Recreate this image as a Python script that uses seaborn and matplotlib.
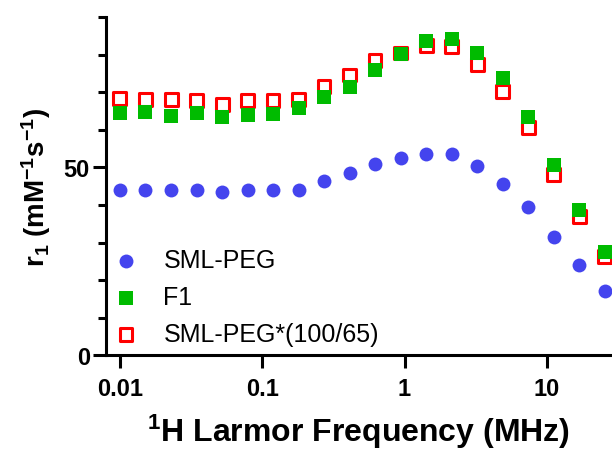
import matplotlib
matplotlib.use("Agg")
import matplotlib.pyplot as plt
import matplotlib.ticker as mtick
import numpy as np
import pandas as pd
import seaborn as sns

# Dados
freq_mhz = [0.01, 0.0151, 0.0229, 0.0346, 0.0523, 0.079, 0.119, 0.18, 0.272, 0.411,
            0.621, 0.938, 1.42, 2.14, 3.24, 4.89, 7.39, 11.2, 16.9, 25.5]
r1_sml_peg = [44.1, 44.1, 44.1, 43.9, 43.4, 44.1, 43.9, 44.1, 46.5, 48.4,
              51.0, 52.4, 53.6, 53.5, 50.3, 45.7, 39.4, 31.4, 24.0, 17.1]
r1_f1 = [64.5, 64.7, 63.8, 64.5, 63.3, 64.0, 64.3, 65.7, 68.7, 71.5,
         75.9, 80.3, 83.7, 84.2, 80.5, 73.9, 63.3, 50.7, 38.6, 27.4]
r1_sml_peg_esc = [68.3, 68.1, 68.1, 67.8, 66.8, 67.9, 67.8, 68.1, 71.5, 74.6,
                  78.4, 80.5, 82.5, 82.3, 77.4, 70.3, 60.6, 48.2, 36.9, 26.2]
rotulos = ["SML-PEG", "F1", "SML-PEG*(100/65)"]
xticks = [0.01, 0.1, 1, 10]
xtick_labels = ["0.01", "0.1", "1", "10"]

df = pd.DataFrame({"freq": freq_mhz, "sml": r1_sml_peg, "f1": r1_f1, "esc": r1_sml_peg_esc})

sns.set_style("ticks")
plt.rcParams["font.family"] = ["Liberation Sans", "DejaVu Sans"]
plt.rcParams["mathtext.fontset"] = "custom"
plt.rcParams["mathtext.rm"] = "Liberation Sans:bold"
plt.rcParams["mathtext.default"] = "rm"
for chave in ["text.color", "axes.labelcolor", "xtick.color", "ytick.color", "axes.edgecolor"]:
    plt.rcParams[chave] = "black"

fig = plt.figure(figsize=(6.12, 4.56), dpi=100)
ax = fig.add_axes([0.173, 0.219, 0.827, 0.741])

sns.scatterplot(data=df, x="freq", y="sml", ax=ax, marker="o", s=100,
                color="#4444EE", linewidth=0, label=rotulos[0], zorder=3)
sns.scatterplot(data=df, x="freq", y="esc", ax=ax, marker="s", s=85,
                facecolor="none", edgecolor="#FF0000", linewidth=2.2,
                label=rotulos[2], zorder=3)
sns.scatterplot(data=df, x="freq", y="f1", ax=ax, marker="s", s=115,
                color="#00BB00", linewidth=0, label=rotulos[1], zorder=4)

ax.set_xscale("log")
ax.set_xlim(0.00797, 28.7)
ax.set_ylim(0, 90)

ax.set_xticks(xticks)
ax.set_xticklabels(xtick_labels)
ax.xaxis.set_minor_locator(mtick.NullLocator())
ax.set_yticks([0, 50])
ax.set_yticklabels(["0", "50"])
ax.yaxis.set_minor_locator(mtick.MultipleLocator(10))

for lbl in ax.get_xticklabels() + ax.get_yticklabels():
    lbl.set_fontweight("bold")
    lbl.set_fontsize(17)

ax.tick_params(axis="x", which="major", length=9, width=2.2, pad=7)
ax.tick_params(axis="y", which="major", length=9.5, width=2.2, pad=2)
ax.tick_params(axis="y", which="minor", length=6, width=2.2)

for spine in ["top", "right"]:
    ax.spines[spine].set_visible(False)
for spine in ["left", "bottom"]:
    ax.spines[spine].set_linewidth(2.2)

ax.set_xlabel("$^1$H Larmor Frequency (MHz)", fontsize=23, fontweight="bold", labelpad=8)
ax.set_ylabel("r$_1$ (mM$^{-1}$s$^{-1}$)", fontsize=20, fontweight="bold", labelpad=8)

# Legenda na ordem original
handles, labels = ax.get_legend_handles_labels()
ordem = [labels.index(r) for r in rotulos]
ax.legend([handles[i] for i in ordem], [labels[i] for i in ordem],
          loc="center left", bbox_to_anchor=(0.015, 0.1716), frameon=False,
          fontsize=18, handlelength=1.0, handletextpad=1.0, labelspacing=0.52,
          borderaxespad=0, borderpad=0)

fig.savefig("out.png", dpi=100)
